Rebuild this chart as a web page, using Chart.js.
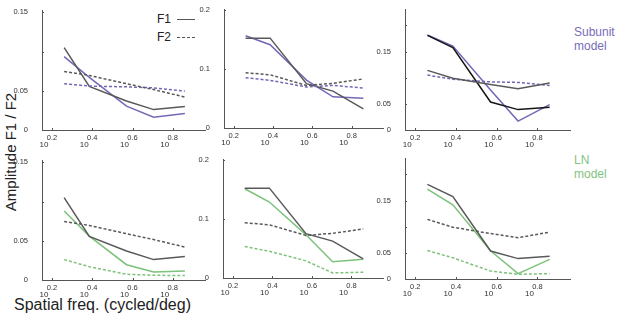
<!DOCTYPE html>
<html>
<head>
<meta charset="utf-8">
<script src="https://cdn.jsdelivr.net/npm/chart.js@4.4.1/dist/chart.umd.min.js"></script>
<style>
	body { margin: 0; background: #fff; }
	#wrap { position: relative; width: 617px; height: 317px; overflow: hidden; font-family: "Liberation Sans", Arial, sans-serif; }
	#wrap canvas { position: absolute; }
	.txt { position: absolute; white-space: nowrap; }
	.leg-line { position: absolute; width: 18px; height: 0; }
</style>
</head>
<body>
<div id="wrap">
	<div class="txt" style="left:157px; top:12px; font-size:12px; color:#222;">F1</div>
	<div class="leg-line" style="left:177px; top:19px; border-top:1.5px solid #555;"></div>
	<div class="txt" style="left:157px; top:30px; font-size:12px; color:#222;">F2</div>
	<div class="leg-line" style="left:177px; top:37px; border-top:1.5px dashed #555;"></div>

	<div class="txt" style="left:574px; top:25px; font-size:12px; line-height:14px; color:#7a6cb8;">Subunit<br>model</div>
	<div class="txt" style="left:574px; top:153px; font-size:12px; line-height:14px; color:#7fc47f;">LN<br>model</div>

	<div class="txt" style="left:10px; top:152px; font-size:15px; color:#222; transform:translate(-50%,-50%) rotate(-90deg);">Amplitude F1 / F2</div>
	<div class="txt" style="left:14px; top:296px; font-size:16px; line-height:18px; color:#222;">Spatial freq. (cycled/deg)</div>
</div>
<script>
// log10 of the spatial frequencies (x positions)
const freqExp = [0.26, 0.385, 0.57, 0.705, 0.86];
const xTicks = [0.2, 0.4, 0.6, 0.8];

// cell A (left column)
const dataA_F1 = [0.105, 0.0555, 0.037, 0.026, 0.03];
const dataA_F2 = [0.0745, 0.0695, 0.059, 0.0515, 0.042];
const subA_F1 = [0.0935, 0.067, 0.0305, 0.0163, 0.021];
const subA_F2 = [0.059, 0.056, 0.055, 0.0537, 0.0496];
const lnA_F1 = [0.088, 0.056, 0.0195, 0.0102, 0.0114];
const lnA_F2 = [0.026, 0.017, 0.0073, 0.006, 0.0057];

// cell B (middle column)
const dataB_F1 = [0.152, 0.152, 0.075, 0.0624, 0.0325];
const dataB_F2 = [0.0935, 0.09, 0.072, 0.0755, 0.083];
const subB_F1 = [0.156, 0.1408, 0.081, 0.0527, 0.0505];
const subB_F2 = [0.085, 0.0806, 0.0694, 0.072, 0.0677];
const lnB_F1 = [0.151, 0.1285, 0.073, 0.0274, 0.0317];
const lnB_F2 = [0.0532, 0.0452, 0.029, 0.0086, 0.0097];

// cell C (right column)
const dataC_F1 = [0.181, 0.1576, 0.0536, 0.039, 0.0436];
const dataC_F2 = [0.114, 0.099, 0.087, 0.079, 0.0897];
const subC_F1 = [0.182, 0.1606, 0.0764, 0.017, 0.0485];
const subC_F2 = [0.105, 0.097, 0.092, 0.091, 0.085];
const lnC_F1 = [0.172, 0.1418, 0.054, 0.0103, 0.0376];
const lnC_F2 = [0.0545, 0.0406, 0.0152, 0.009, 0.0103];

// y ticks per column
const yTicksA = [0, 0.05, 0.1, 0.15];
const yLabelsA = ["0", "0.05", "", "0.15"];
const yTicksB = [0, 0.1, 0.2];
const yLabelsB = ["0", "0.1", "0.2"];
const yTicksC = [0, 0.05, 0.1, 0.15, 0.2];
const yLabelsC = ["0", "0.05", "", "0.15", ""];

const GRAY = "#595959";
const BLACK = "#151515";
const PURPLE = "#7468b6";
const GREEN = "#7cc27a";

// тики внутрь и подписи вида 10^x
const axisDecor = {
	id: "axisDecor",
	afterDraw(chart) {
		const { ctx, scales: { x, y }, chartArea } = chart;
		ctx.save();
		ctx.strokeStyle = "#555";
		ctx.lineWidth = 1;
		ctx.beginPath();
		x.ticks.forEach((t) => {
			const px = Math.round(x.getPixelForValue(t.value)) + 0.5;
			ctx.moveTo(px, chartArea.bottom);
			ctx.lineTo(px, chartArea.bottom - 2);
		});
		y.ticks.forEach((t) => {
			const py = Math.round(y.getPixelForValue(t.value)) + 0.5;
			ctx.moveTo(chartArea.left, py);
			ctx.lineTo(chartArea.left + 2, py);
		});
		ctx.stroke();
		ctx.fillStyle = "#333";
		ctx.textAlign = "center";
		ctx.textBaseline = "middle";
		x.ticks.forEach((t) => {
			const px = x.getPixelForValue(t.value);
			ctx.font = '7.5px "Liberation Sans", Arial';
			ctx.fillText(t.value.toFixed(1), px, chartArea.bottom + 8);
			ctx.font = '8px "Liberation Sans", Arial';
			ctx.fillText("10", px - 8, chartArea.bottom + 14.5);
		});
		ctx.restore();
	},
};

function line(values, color, dashed) {
	return {
		data: freqExp.map((f, i) => ({ x: f, y: values[i] })),
		borderColor: color,
		borderWidth: 1.5,
		borderDash: dashed ? [3, 2] : [],
		pointRadius: 0,
		tension: 0,
		fill: false,
	};
}

function makePanel(box, yMax, yTicks, yLabels, datasets) {
	const canvas = document.createElement("canvas");
	const w = box.right - box.left + 40 + 2;
	const h = box.bottom - box.top + 4 + 20;
	canvas.width = w;
	canvas.height = h;
	canvas.style.left = box.left - 40 + "px";
	canvas.style.top = box.top - 4 + "px";
	document.getElementById("wrap").appendChild(canvas);

	return new Chart(canvas, {
		type: "line",
		data: { datasets: datasets },
		options: {
			responsive: false,
			animation: false,
			devicePixelRatio: 1,
			layout: { padding: { left: 0, top: 4, right: 2, bottom: 0 } },
			plugins: { legend: { display: false }, tooltip: { enabled: false } },
			scales: {
				x: {
					type: "linear",
					min: 0.15,
					max: 0.96,
					afterBuildTicks: (s) => { s.ticks = xTicks.map((v) => ({ value: v })); },
					afterFit: (s) => { s.height = 20; },
					ticks: { display: false },
					grid: { display: false },
					border: { display: true, color: "#555", width: 1 },
				},
				y: {
					min: 0,
					max: yMax,
					afterBuildTicks: (s) => { s.ticks = yTicks.map((v) => ({ value: v })); },
					afterFit: (s) => { s.width = 40; },
					ticks: {
						padding: 6,
						color: "#333",
						font: { family: '"Liberation Sans", Arial', size: 7.5, lineHeight: 1 },
						callback: (v, i) => yLabels[i],
					},
					grid: { display: false },
					border: { display: true, color: "#555", width: 1 },
				},
			},
		},
		plugins: [axisDecor],
	});
}

// верхний ряд — subunit model
makePanel({ left: 42, right: 205, top: 5, bottom: 130 }, 0.152, yTicksA, yLabelsA, [
	line(dataA_F2, GRAY, true), line(subA_F2, PURPLE, true),
	line(dataA_F1, GRAY, false), line(subA_F1, PURPLE, false),
]);
makePanel({ left: 224, right: 383, top: 4, bottom: 128 }, 0.2, yTicksB, yLabelsB, [
	line(dataB_F2, GRAY, true), line(subB_F2, PURPLE, true),
	line(dataB_F1, GRAY, false), line(subB_F1, PURPLE, false),
]);
makePanel({ left: 405, right: 570, top: 4, bottom: 130 }, 0.23, yTicksC, yLabelsC, [
	line(dataC_F2, GRAY, false), line(subC_F2, PURPLE, true),
	line(dataC_F1, BLACK, false), line(subC_F1, PURPLE, false),
]);

// нижний ряд — LN model
makePanel({ left: 42, right: 205, top: 155, bottom: 280 }, 0.152, yTicksA, yLabelsA, [
	line(dataA_F2, GRAY, true), line(lnA_F2, GREEN, true),
	line(dataA_F1, GRAY, false), line(lnA_F1, GREEN, false),
]);
makePanel({ left: 223, right: 383, top: 154, bottom: 278 }, 0.2, yTicksB, yLabelsB, [
	line(dataB_F2, GRAY, true), line(lnB_F2, GREEN, true),
	line(dataB_F1, GRAY, false), line(lnB_F1, GREEN, false),
]);
makePanel({ left: 405, right: 570, top: 153, bottom: 279 }, 0.23, yTicksC, yLabelsC, [
	line(dataC_F2, GRAY, true), line(lnC_F2, GREEN, true),
	line(dataC_F1, GRAY, false), line(lnC_F1, GREEN, false),
]);
</script>
</body>
</html>
